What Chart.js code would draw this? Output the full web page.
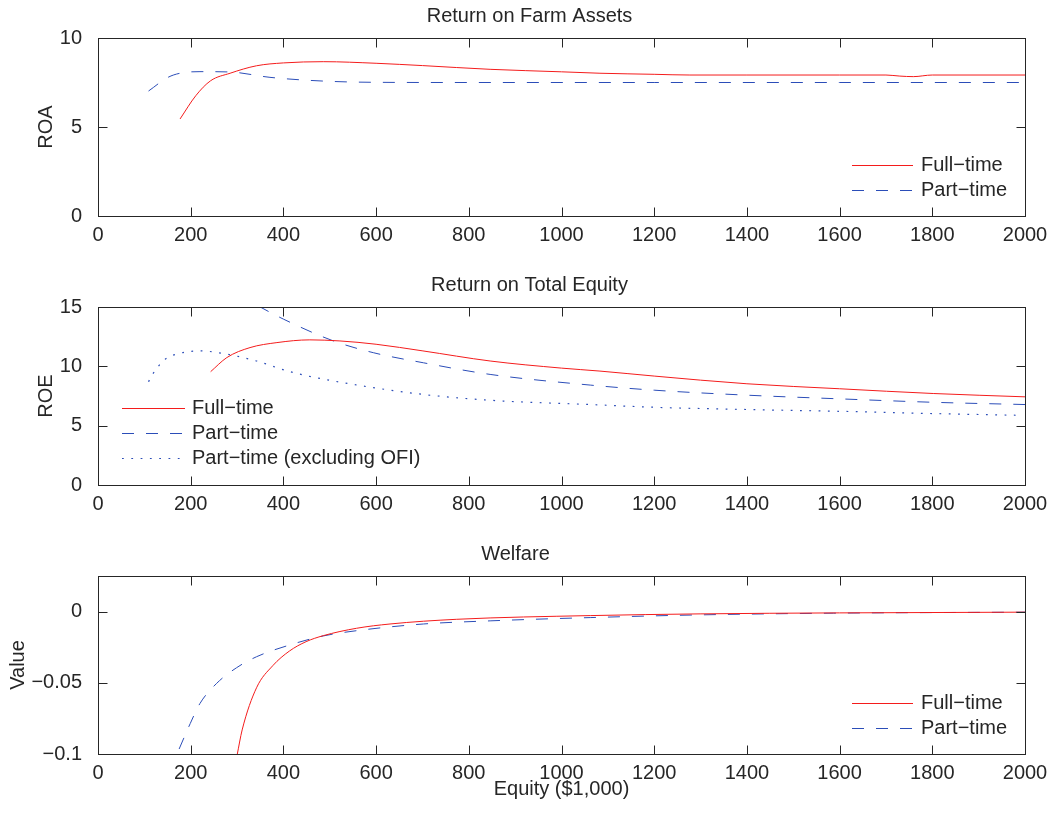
<!DOCTYPE html>
<html><head><meta charset="utf-8">
<script src="https://cdn.jsdelivr.net/npm/chart.js@4/dist/chart.umd.min.js"></script>
<style>
html,body{margin:0;padding:0;background:#fff;width:1053px;height:813px;overflow:hidden;}
canvas{position:absolute;left:0;}
</style></head><body>
<canvas id="c1" width="1053" height="269" style="top:0px"></canvas>
<canvas id="c2" width="1053" height="269" style="top:269px"></canvas>
<canvas id="c3" width="1053" height="275" style="top:538px"></canvas>
<script>
// ---------- data ----------
const xTicks = [0,200,400,600,800,1000,1200,1400,1600,1800,2000];

const roaTicks = [0,5,10];
const roaTickLabels = ['0','5','10'];
const roaFullX = [177,211,243,285,342,400,486,600,700,846,1000,1083,1200,1277,1400,1600,1700,1730,1759,1800,2000];
const roaFullY = [5.45,6.76,7.6,8.02,8.44,8.6,8.67,8.58,8.45,8.24,8.1,8.02,7.96,7.92,7.92,7.92,7.92,7.86,7.83,7.92,7.92];
const roaPartX = [109,151,177,220,285,371,486,602,800,1200,1600,2000];
const roaPartY = [7.02,7.79,8.02,8.11,8.09,7.79,7.58,7.51,7.5,7.5,7.5,7.5];

const roeTicks = [0,5,10,15];
const roeTickLabels = ['0','5','10','15'];
const roeFullX = [243,278,328,386,457,522,600,701,846,1000,1083,1200,1400,1600,1802,2000];
const roeFullY = [9.55,10.74,11.58,12.0,12.23,12.14,11.86,11.3,10.45,9.85,9.6,9.18,8.53,8.11,7.71,7.43];
const roePartX = [300,350,400,508,594,702,846,1062,1200,1400,1600,1802,2000];
const roePartY = [16.1,15.0,13.98,12.14,11.15,10.3,9.32,8.42,7.99,7.57,7.26,6.97,6.78];
const roeExclX = [109,119,145,177,220,270,342,414,522,702,846,1062,1200,1400,1600,1802,1990];
const roeExclY = [8.7,9.4,10.6,11.1,11.3,11.08,10.45,9.55,8.67,7.63,7.14,6.78,6.55,6.36,6.21,6.02,5.87];

const welTicks = [-0.1,-0.05,0];
const welTickLabels = ['\u22120.1','\u22120.05','0'];
const welFullX = [300,311,342,377,413,449,486,558,630,774,1062,1299,1600,2000];
const welFullY = [-0.101,-0.0831,-0.0535,-0.038,-0.0277,-0.0211,-0.0169,-0.0117,-0.0087,-0.0054,-0.0028,-0.0016,-0.0009,-0.0004];
const welPartX = [175,199,220,256,299,342,414,486,558,702,846,1062,1299,1587,2000];
const welPartY = [-0.0965,-0.0786,-0.0645,-0.0504,-0.0394,-0.0317,-0.0234,-0.0171,-0.0134,-0.0087,-0.0065,-0.0042,-0.0023,-0.0011,-0.0004];

const labFull = 'Full\u2212time';
const labPart = 'Part\u2212time';
const labExcl = 'Part\u2212time (excluding OFI)';

// ---------- styles ----------
const FONT = 'Liberation Sans, Arial, Helvetica, sans-serif';
const TXT = '#262626';
const RED = '#f41c1c';
const BLUE = '#2b4db8';
const DASH = [12,12];
const DOT = [1.8,7.5];

const pts = (xs, ys) => xs.map((x,i)=>({x:x, y:ys[i]}));

const boxTicks = {
  id:'boxTicks',
  afterDatasetsDraw(chart){
    const {ctx, chartArea:a, scales:{x,y}} = chart;
    ctx.save();
    ctx.strokeStyle = TXT; ctx.lineWidth = 1; ctx.setLineDash([]);
    const L=Math.round(a.left)+0.5, R=Math.round(a.right)+0.5, T=Math.round(a.top)+0.5, B=Math.round(a.bottom)+0.5;
    ctx.strokeRect(L,T,R-L,B-T);
    ctx.beginPath();
    x.ticks.forEach(t=>{const p=Math.round(x.getPixelForValue(t.value))+0.5; ctx.moveTo(p,B); ctx.lineTo(p,B-9); ctx.moveTo(p,T); ctx.lineTo(p,T+9);});
    y.ticks.forEach(t=>{const p=Math.round(y.getPixelForValue(t.value))+0.5; ctx.moveTo(L,p); ctx.lineTo(L+9,p); ctx.moveTo(R,p); ctx.lineTo(R-9,p);});
    ctx.stroke();
    ctx.restore();
  }
};

const mLegend = {
  id:'mLegend',
  afterDraw(chart, args, o){
    const ctx = chart.ctx;
    ctx.save();
    chart.data.datasets.forEach((ds,i)=>{
      const y = o.y + i*o.dy + 0.5;
      ctx.strokeStyle = ds.borderColor; ctx.lineWidth = ds.borderWidth;
      ctx.setLineDash(ds.borderDash || []);
      ctx.beginPath(); ctx.moveTo(o.x0,y); ctx.lineTo(o.x1,y); ctx.stroke();
      ctx.setLineDash([]);
      ctx.fillStyle = TXT; ctx.font = '20px ' + FONT;
      ctx.textAlign = 'left'; ctx.textBaseline = 'middle';
      ctx.fillText(ds.label, o.tx, y);
    });
    ctx.restore();
  }
};

function ds(label, xs, ys, color, dash, w){
  return {label, data: pts(xs,ys), borderColor: color, backgroundColor: color, borderWidth: w || 1,
    borderDash: dash, pointRadius: 0, fill: false, cubicInterpolationMode: 'monotone'};
}

function make(id, title, ylab, yTicks, yLabels, ymin, ymax, datasets, padLeft, xTitle, legend){
  const canvas = document.getElementById(id);
  const H = canvas.height;
  return new Chart(canvas, {
    type: 'line',
    data: { datasets },
    options: {
      responsive: false, animation: false,
      layout: { padding: { left: padLeft, right: 28, top: 0, bottom: 0 } },
      plugins: {
        legend: { display: false }, tooltip: { enabled: false },
        title: { display: true, text: title, color: TXT, font: { size: 20, weight: 'normal', family: FONT }, padding: { top: 4, bottom: 10 } },
        mLegend: legend
      },
      scales: {
        x: {
          type: 'linear', min: 0, max: 2000,
          afterBuildTicks: s => { s.ticks = xTicks.map(v => ({value: v})); },
          afterFit: s => { s.height = H - 216; },
          ticks: { color: TXT, font: { size: 20, family: FONT }, padding: -1, maxRotation: 0, autoSkip: false, callback: v => String(v) },
          grid: { display: false }, border: { display: false },
          title: { display: !!xTitle, text: xTitle || '', color: TXT, font: { size: 20, family: FONT }, padding: { top: 0, bottom: 12 } }
        },
        y: {
          type: 'linear', min: ymin, max: ymax,
          afterBuildTicks: s => { s.ticks = yTicks.map(v => ({value: v})); },
          afterFit: s => { s.width = 98 - padLeft; },
          ticks: { color: TXT, font: { size: 20, family: FONT }, padding: 8, autoSkip: false, callback: (v, i) => yLabels[i] },
          grid: { display: false }, border: { display: false },
          title: { display: true, text: ylab, color: TXT, font: { size: 20, family: FONT }, padding: { top: 0, bottom: 0 } }
        }
      }
    },
    plugins: [boxTicks, mLegend]
  });
}

make('c1', 'Return on Farm Assets', 'ROA', roaTicks, roaTickLabels, 0, 10, [
  ds(labFull, roaFullX, roaFullY, RED, []),
  ds(labPart, roaPartX, roaPartY, BLUE, DASH)
], 34, null, { x0: 852, x1: 913, tx: 921, y: 165, dy: 25 });

make('c2', 'Return on Total Equity', 'ROE', roeTicks, roeTickLabels, 0, 15, [
  ds(labFull, roeFullX, roeFullY, RED, []),
  ds(labPart, roePartX, roePartY, BLUE, DASH),
  ds(labExcl, roeExclX, roeExclY, BLUE, DOT, 1.2)
], 34, null, { x0: 122, x1: 185, tx: 192, y: 139, dy: 25 });

make('c3', 'Welfare', 'Value', welTicks, welTickLabels, -0.1, 0.025, [
  ds(labFull, welFullX, welFullY, RED, []),
  ds(labPart, welPartX, welPartY, BLUE, DASH)
], 6, 'Equity ($1,000)', { x0: 852, x1: 913, tx: 921, y: 165, dy: 25 });
</script>
</body></html>
